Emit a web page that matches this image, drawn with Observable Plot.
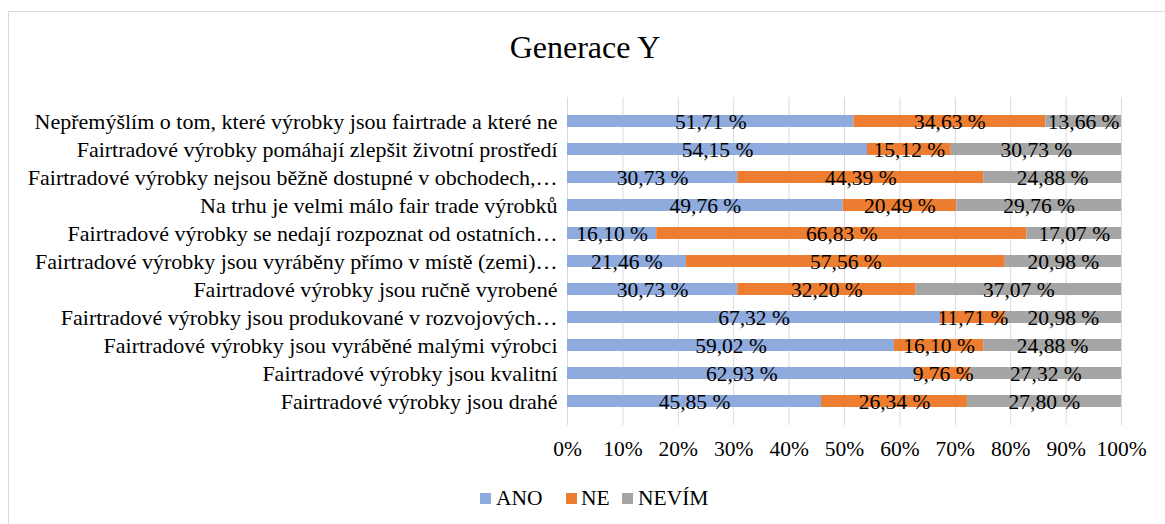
<!DOCTYPE html>
<html>
<head>
<meta charset="utf-8">
<script src="https://cdn.jsdelivr.net/npm/d3@7"></script>
<script src="https://cdn.jsdelivr.net/npm/@observablehq/plot@0.6"></script>
<style>
  body { margin: 0; background: #fff; font-family: "Liberation Serif", serif; }
  #wrap { position: relative; width: 1165px; height: 524px; overflow: hidden; background: #fff; }
  #frame { position: absolute; left: 8px; top: 11px; width: 1200px; height: 600px; border-left: 1px solid #d9d9d9; border-top: 1px solid #d9d9d9; }
  #title { position: absolute; left: 0; width: 1170px; top: 27px; text-align: center; font-size: 32px; color: #000; line-height: 40px; }
  #chart { position: absolute; left: 0; top: 0; }
  #legend { position: absolute; top: 484px; left: 0; width: 1165px; height: 30px; }
  .li { position: absolute; top: 0; font-size: 21.5px; line-height: 28px; color: #000; }
  .sw { position: absolute; width: 11px; height: 11px; top: 9px; }
</style>
</head>
<body>
<div id="wrap">
  <div id="frame"></div>
  <div id="chart"></div>
  <div id="title">Generace Y</div>
  <div id="legend"></div>
</div>
<script>
const categories = [
  "Nepřemýšlím o tom, které výrobky jsou fairtrade a které ne",
  "Fairtradové výrobky pomáhají zlepšit životní prostředí",
  "Fairtradové výrobky nejsou běžně dostupné v obchodech,…",
  "Na trhu je velmi málo fair trade výrobků",
  "Fairtradové výrobky se nedají rozpoznat od ostatních…",
  "Fairtradové výrobky jsou vyráběny přímo v místě (zemi)…",
  "Fairtradové výrobky jsou ručně vyrobené",
  "Fairtradové výrobky jsou produkované v rozvojových…",
  "Fairtradové výrobky jsou vyráběné malými výrobci",
  "Fairtradové výrobky jsou kvalitní",
  "Fairtradové výrobky jsou drahé"
];
const series = ["ANO", "NE", "NEVÍM"];
const colors = ["#8faadc", "#ed7d31", "#a5a5a5"];
const ano   = [51.71, 54.15, 30.73, 49.76, 16.10, 21.46, 30.73, 67.32, 59.02, 62.93, 45.85];
const ne    = [34.63, 15.12, 44.39, 20.49, 66.83, 57.56, 32.20, 11.71, 16.10,  9.76, 26.34];
const nevim = [13.66, 30.73, 24.88, 29.76, 17.07, 20.98, 37.07, 20.98, 24.88, 27.32, 27.80];
const xTicks = [0, 10, 20, 30, 40, 50, 60, 70, 80, 90, 100];

const values = [ano, ne, nevim];
const data = [];
categories.forEach((c, i) => {
  series.forEach((s, j) => data.push({cat: c, series: s, value: values[j][i]}));
});
const fmt = v => v.toFixed(2).replace(".", ",") + " %";

const chart = Plot.plot({
  width: 1165,
  height: 524,
  marginTop: 97,
  marginBottom: 99,
  marginLeft: 567,
  marginRight: 44,
  style: {fontFamily: "'Liberation Serif', serif", fontSize: "21px", color: "#000", background: "transparent"},
  x: {domain: [0, 100]},
  y: {domain: categories, padding: 0.56},
  color: {domain: series, range: colors},
  marks: [
    Plot.gridX(xTicks, {stroke: "#d9d9d9", strokeOpacity: 1, strokeWidth: 1}),
    Plot.barX(data, Plot.stackX({y: "cat", x: "value", fill: "series", order: null})),
    Plot.text(data, Plot.stackX({y: "cat", x: "value", z: "series", order: null, text: d => fmt(d.value), fill: "#000", fontSize: 21.5, dy: 1})),
    Plot.axisY({tickSize: 0, tickPadding: 10, label: null, fontSize: 22}),
    Plot.axisX({ticks: xTicks, tickSize: 0, tickPadding: 15, tickFormat: d => d + "%", label: null, fontSize: 21.5})
  ]
});
document.getElementById("chart").appendChild(chart);

const legend = document.getElementById("legend");
const pos = [[480, 496], [566, 581], [622, 638]];
series.forEach((s, j) => {
  const sw = document.createElement("div");
  sw.className = "sw";
  sw.style.left = pos[j][0] + "px";
  sw.style.background = colors[j];
  legend.appendChild(sw);
  const t = document.createElement("div");
  t.className = "li";
  t.style.left = pos[j][1] + "px";
  t.textContent = s;
  legend.appendChild(t);
});
</script>
</body>
</html>
